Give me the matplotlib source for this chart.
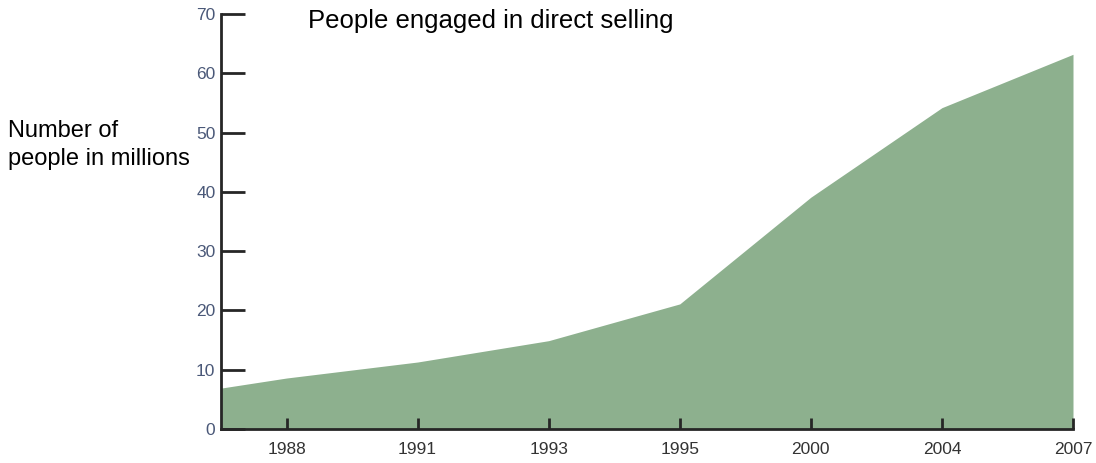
import numpy as np
import matplotlib
matplotlib.use('Agg')
import matplotlib.pyplot as plt

# ── Data ──────────────────────────────────────────────────────────────────────
YEARS      = ['1988', '1991', '1993', '1995', '2000', '2004', '2007']
PEOPLE_MIL = [8.6, 11.3, 14.9, 21.1, 39.1, 54.2, 63.2]
START_VAL  = 6.9          # value at the left edge of the plot
Y_TICKS    = [0, 10, 20, 30, 40, 50, 60, 70]

FILL_COLOR = '#8db08e'
AXIS_COLOR = '#262626'

plt.rcParams['font.family'] = ['Liberation Sans', 'DejaVu Sans']

fig = plt.figure(figsize=(10.96, 4.63), dpi=100)
ax = fig.add_axes([221 / 1096, 1 - 429 / 463, (1073 - 221) / 1096, (429 - 14) / 463])

x = np.arange(len(YEARS))
xs = np.concatenate([[-0.5], x])
ys = np.concatenate([[START_VAL], PEOPLE_MIL])
ax.fill_between(xs, 0, ys, color=FILL_COLOR, linewidth=0, zorder=1)

ax.set_xlim(-0.5, len(YEARS) - 1)
ax.set_ylim(0, 70)

ax.set_xticks(x)
ax.set_xticklabels(YEARS)
ax.set_yticks(Y_TICKS)

for s in ['top', 'right']:
    ax.spines[s].set_visible(False)
for s in ['left', 'bottom']:
    ax.spines[s].set_color(AXIS_COLOR)
    ax.spines[s].set_linewidth(2)
    ax.spines[s].set_zorder(3)

ax.tick_params(axis='y', direction='in', length=17, width=2, color=AXIS_COLOR,
               labelsize=12.5, labelcolor='#4a5878', pad=4)
ax.tick_params(axis='x', direction='in', length=8, width=2, color=AXIS_COLOR,
               labelsize=12.5, labelcolor='#333333', pad=9)

fig.text(308 / 1096, 1 - 21 / 463, 'People engaged in direct selling',
         fontsize=18.5, color='black', ha='left', va='center')
fig.text(8 / 1096, 1 - 145 / 463, 'Number of\npeople in millions',
         fontsize=17, color='black', ha='left', va='center', linespacing=1.3)

fig.savefig('out.png', dpi=100)
plt.close(fig)
